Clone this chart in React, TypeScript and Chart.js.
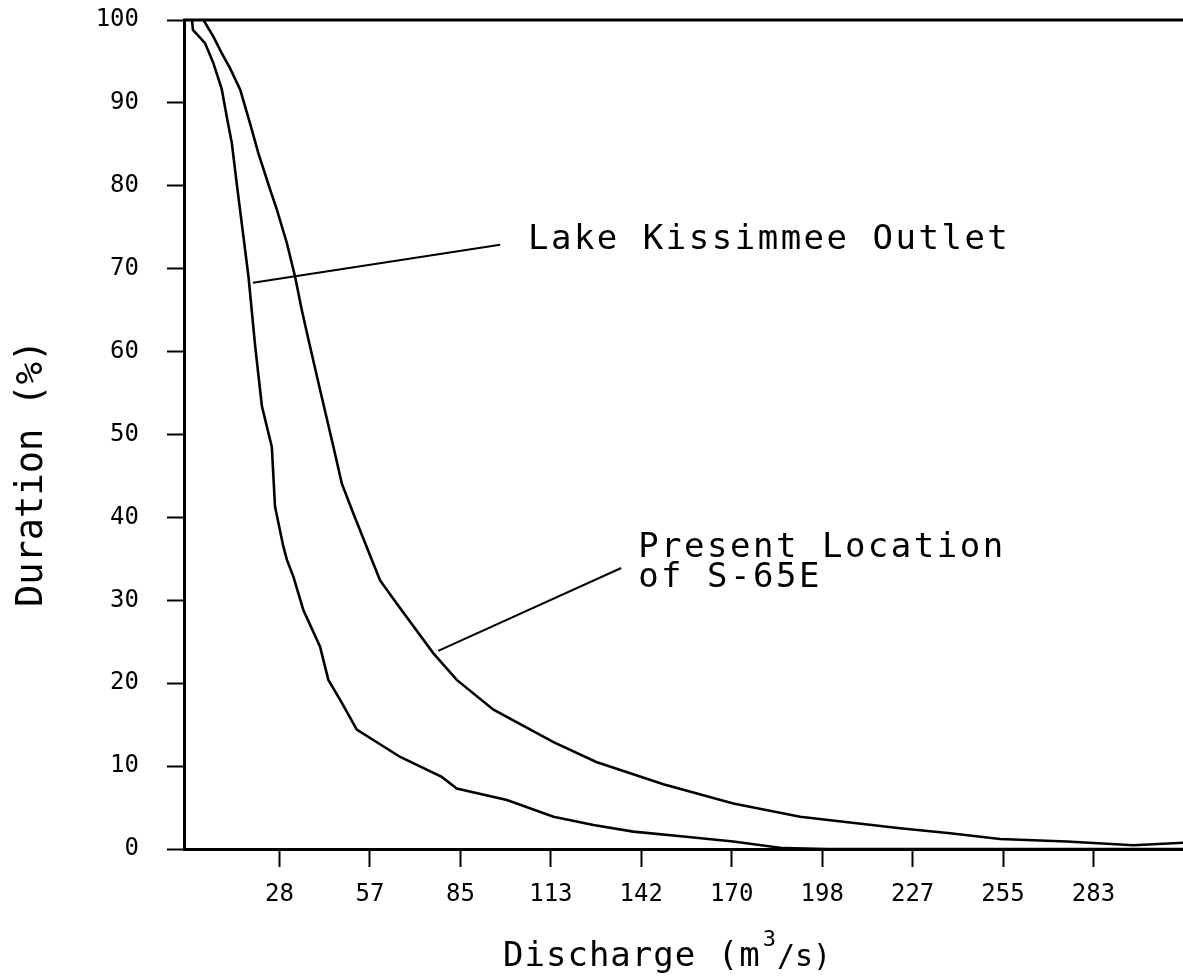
import { useEffect, useRef } from "react";
import { Chart, registerables } from "chart.js";

Chart.register(...registerables);

// Flow-duration curve, Lake Kissimmee Outlet
const lakeQ = [0.9, 1.2, 5.0, 7.6, 10.2, 11.8, 13.4, 14.9, 17.0, 18.6, 19.6, 20.7, 22.8, 25.9, 26.9, 29.5, 30.6, 32.7, 35.8, 41.0, 43.6, 47.3, 52.5, 66.1, 79.1, 83.8, 99.5, 114.1, 126.6, 139.1, 154.8, 170.4, 186.1, 200.0, 311.2];
const lakeDur = [100, 98.8, 97.2, 94.8, 91.7, 88.3, 85.1, 80.3, 73.9, 69.0, 65.0, 60.6, 53.4, 48.5, 41.3, 36.5, 34.9, 32.8, 28.8, 24.4, 20.4, 18.0, 14.4, 11.1, 8.7, 7.3, 5.9, 3.9, 2.9, 2.1, 1.5, 0.9, 0.1, 0, 0];

// Flow-duration curve, present location of S-65E
const s65Q = [4.5, 7.6, 10.2, 12.8, 16.0, 19.1, 21.7, 25.4, 27.5, 30.6, 33.2, 35.3, 37.4, 41.0, 45.2, 47.8, 51.4, 57.2, 59.8, 65.0, 76.5, 83.8, 95.3, 114.1, 127.5, 148.5, 170.4, 191.3, 222.6, 238.3, 253.9, 274.8, 295.7, 311.3];
const s65Dur = [100, 98.0, 96.0, 94.2, 91.6, 87.5, 83.9, 79.5, 77.1, 73.1, 69.0, 65.0, 61.4, 55.4, 48.5, 44.1, 40.5, 34.9, 32.4, 29.6, 23.6, 20.4, 16.8, 12.9, 10.5, 7.8, 5.5, 3.9, 2.5, 1.9, 1.2, 0.9, 0.45, 0.76];

// Discharge ticks every 1000 cfs, labelled in m^3/s
const xTickValues = [28.317, 56.634, 84.951, 113.268, 141.585, 169.902, 198.219, 226.536, 254.853, 283.17];
const xTickLabels = ["28", "57", "85", "113", "142", "170", "198", "227", "255", "283"];
const yTickValues = [0, 10, 20, 30, 40, 50, 60, 70, 80, 90, 100];

// Callout labels with leader lines (data coordinates)
const calloutLines = [
  ["Lake Kissimmee Outlet"],
  ["Present Location", "of S-65E"],
];
const calloutTextAt = [
  [106.1, 72.4],
  [140.6, 35.2],
];
const calloutLeaderFrom = [
  [97.4, 72.9],
  [135.3, 33.9],
];
const calloutLeaderTo = [
  [20.0, 68.3],
  [78.0, 23.9],
];

const MONO = "'DejaVu Sans Mono', monospace";

const toPoints = (xs: number[], ys: number[]) => xs.map((x, i) => ({ x, y: ys[i] }));

const clearScalePadding = (s: any) => {
  s.paddingTop = 0;
  s.paddingBottom = 0;
  s.paddingLeft = 0;
  s.paddingRight = 0;
};

const plotterPlugin = {
  id: "plotterDecor",
  beforeDraw(chart: any) {
    const { ctx, width, height } = chart;
    ctx.save();
    ctx.fillStyle = "#fff";
    ctx.fillRect(0, 0, width, height);
    ctx.restore();
  },
  afterDraw(chart: any) {
    const { ctx, chartArea } = chart;
    const xs = chart.scales.x;
    const ys = chart.scales.y;
    ctx.save();
    ctx.strokeStyle = "#000";
    ctx.fillStyle = "#000";

    // top frame line
    ctx.lineWidth = 3;
    ctx.beginPath();
    ctx.moveTo(chartArea.left - 1, chartArea.top);
    ctx.lineTo(chartArea.right, chartArea.top);
    ctx.stroke();

    // leader lines and callout text
    ctx.lineWidth = 2;
    calloutLines.forEach((lines, i) => {
      ctx.beginPath();
      ctx.moveTo(xs.getPixelForValue(calloutLeaderFrom[i][0]), ys.getPixelForValue(calloutLeaderFrom[i][1]));
      ctx.lineTo(xs.getPixelForValue(calloutLeaderTo[i][0]), ys.getPixelForValue(calloutLeaderTo[i][1]));
      ctx.stroke();
      ctx.font = `34px ${MONO}`;
      (ctx as any).letterSpacing = "2.5px";
      ctx.textAlign = "left";
      ctx.textBaseline = "alphabetic";
      const tx = xs.getPixelForValue(calloutTextAt[i][0]);
      const ty = ys.getPixelForValue(calloutTextAt[i][1]);
      lines.forEach((t, j) => ctx.fillText(t, tx, ty + j * 30));
    });

    // x-axis title with superscript
    ctx.textAlign = "left";
    ctx.textBaseline = "alphabetic";
    const xt = 503;
    const yb = 966;
    const part1 = "Discharge (m";
    ctx.font = `34px ${MONO}`;
    (ctx as any).letterSpacing = "1px";
    ctx.fillText(part1, xt, yb);
    let cx = xt + ctx.measureText(part1).width + 2;
    ctx.font = `22px ${MONO}`;
    (ctx as any).letterSpacing = "0px";
    ctx.fillText("3", cx, yb - 20);
    cx += ctx.measureText("3").width + 1;
    ctx.font = `30px ${MONO}`;
    ctx.fillText("/s)", cx, yb);

    // y-axis title
    ctx.save();
    ctx.translate(42, 607);
    ctx.rotate(-Math.PI / 2);
    ctx.font = `37px ${MONO}`;
    (ctx as any).letterSpacing = "0px";
    ctx.fillText("Duration (%)", 0, 0);
    ctx.restore();

    (ctx as any).letterSpacing = "0px";
    ctx.restore();
  },
};

export default function App() {
  const ref = useRef<HTMLCanvasElement | null>(null);

  useEffect(() => {
    if (!ref.current) return;
    const chart = new Chart(ref.current, {
      type: "line",
      data: {
        datasets: [
          {
            label: "Lake Kissimmee Outlet",
            data: toPoints(lakeQ, lakeDur),
            borderColor: "#000",
            borderWidth: 2.6,
            pointRadius: 0,
            tension: 0,
            fill: false,
          },
          {
            label: "Present Location of S-65E",
            data: toPoints(s65Q, s65Dur),
            borderColor: "#000",
            borderWidth: 2.6,
            pointRadius: 0,
            tension: 0,
            fill: false,
          },
        ],
      },
      options: {
        animation: false,
        responsive: false,
        devicePixelRatio: 1,
        parsing: false,
        layout: { padding: { top: 20, left: 0, right: 0, bottom: 0 } },
        plugins: {
          legend: { display: false },
          tooltip: { enabled: false },
        },
        scales: {
          x: {
            type: "linear",
            min: -1.6,
            max: 311.2,
            afterFit: (s: any) => {
              s.height = 128;
              clearScalePadding(s);
            },
            afterBuildTicks: (s: any) => {
              s.ticks = xTickValues.map((v) => ({ value: v }));
            },
            ticks: {
              color: "#000",
              font: { family: MONO, size: 24 },
              padding: 13,
              maxRotation: 0,
              autoSkip: false,
              callback: (_v: any, i: number) => xTickLabels[i],
            },
            grid: {
              drawOnChartArea: false,
              drawTicks: true,
              tickLength: 18,
              tickWidth: 2,
              tickColor: "#000",
            },
            border: { display: true, color: "#000", width: 3 },
          },
          y: {
            type: "linear",
            min: 0,
            max: 100,
            afterFit: (s: any) => {
              s.width = 184;
              clearScalePadding(s);
            },
            afterBuildTicks: (s: any) => {
              s.ticks = yTickValues.map((v) => ({ value: v }));
            },
            ticks: {
              color: "#000",
              font: { family: MONO, size: 24 },
              padding: 28,
              autoSkip: false,
            },
            grid: {
              drawOnChartArea: false,
              drawTicks: true,
              tickLength: 17,
              tickWidth: 2,
              tickColor: "#000",
            },
            border: { display: true, color: "#000", width: 3 },
          },
        },
      },
      plugins: [plotterPlugin],
    });
    return () => chart.destroy();
  }, []);

  return (
    <canvas
      ref={ref}
      width={1183}
      height={977}
      style={{ position: "fixed", left: 0, top: 0, width: 1183, height: 977, display: "block" }}
    />
  );
}
